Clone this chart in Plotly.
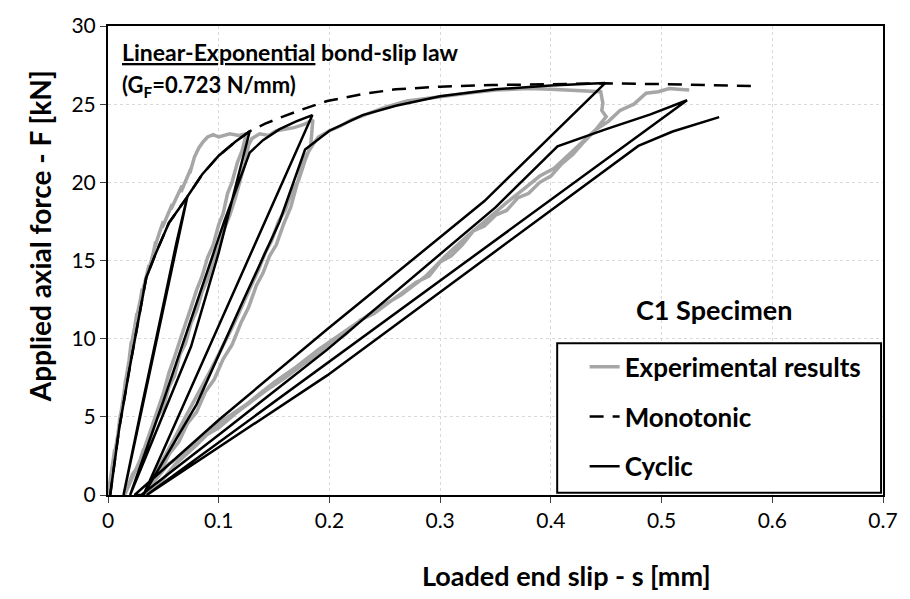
import plotly.graph_objects as go

# ---------------- data ----------------
x_ticks = [0, 0.1, 0.2, 0.3, 0.4, 0.5, 0.6, 0.7]
y_ticks = [0, 5, 10, 15, 20, 25, 30]

# Monotonic model (dashed)
mono_s = [0.002, 0.01, 0.02, 0.0345, 0.0434, 0.055, 0.0716, 0.085, 0.1, 0.115, 0.128,
          0.142, 0.156, 0.175, 0.198, 0.23, 0.26, 0.3, 0.347, 0.4, 0.449, 0.5, 0.55, 0.586]
mono_F = [0, 4.2, 8.3, 13.9, 15.5, 17.4, 19.07, 20.5, 21.7, 22.6, 23.27,
          23.75, 24.15, 24.65, 25.2, 25.65, 25.95, 26.12, 26.22, 26.3, 26.33, 26.28, 26.22, 26.16]

# Cyclic model (solid black)
cyc_s = [0.002, 0.01, 0.02, 0.0345, 0.0434, 0.055, 0.0716,
         0.051, 0.014,
         0.03, 0.048, 0.062, 0.0716,
         0.085, 0.1, 0.115, 0.128,
         0.1, 0.075, 0.02,
         0.05, 0.08, 0.105, 0.128,
         0.14, 0.155, 0.17, 0.1846,
         0.032,
         0.08, 0.121, 0.155, 0.178,
         0.2, 0.23, 0.26, 0.3, 0.35, 0.4, 0.449,
         0.34, 0.198, 0.1, 0.024,
         0.03, 0.11, 0.198, 0.35, 0.406,
         0.45, 0.49, 0.523,
         0.035,
         0.198, 0.406, 0.479, 0.51, 0.552]
cyc_F = [0, 4.2, 8.3, 13.9, 15.5, 17.4, 19.07,
         12.26, 0,
         5.5, 11.5, 16.2, 19.07,
         20.5, 21.7, 22.6, 23.27,
         15.5, 9.5, 0,
         6.0, 12.26, 17.5, 21.9,
         22.7, 23.4, 23.9, 24.3,
         0,
         5.8, 12.26, 17.5, 22.1,
         23.3, 24.3, 24.9, 25.5, 25.95, 26.2, 26.35,
         18.8, 10.6, 4.8, 0,
         0, 4.4, 9.3, 18.4, 22.3,
         23.4, 24.35, 25.25,
         0,
         7.65, 18.55, 22.33, 23.25, 24.17]

# Experimental results (grey, noisy)
exp_s = [0.0, 0.003, 0.002, 0.006, 0.005, 0.009, 0.011, 0.010, 0.014, 0.016, 0.015, 0.019,
         0.021, 0.020, 0.024, 0.026, 0.025, 0.029, 0.031, 0.030, 0.034, 0.037, 0.036, 0.041,
         0.043, 0.042, 0.047, 0.05, 0.049, 0.054, 0.058, 0.057, 0.062, 0.067, 0.066, 0.071,
         0.075, 0.074, 0.078, 0.082, 0.086, 0.09, 0.095, 0.1, 0.105, 0.11, 0.118, 0.125,
         0.121, 0.117, 0.112, 0.108, 0.104, 0.1, 0.095, 0.09, 0.085, 0.08, 0.075, 0.07,
         0.065, 0.06, 0.055, 0.05, 0.045, 0.04, 0.035, 0.03, 0.025, 0.02, 0.015,
         0.022, 0.027, 0.032, 0.038, 0.044, 0.05, 0.055, 0.06, 0.065, 0.07, 0.075, 0.08,
         0.085, 0.09, 0.095, 0.1, 0.105, 0.11, 0.115, 0.12, 0.124, 0.127, 0.13, 0.137,
         0.145, 0.152, 0.16, 0.168, 0.177, 0.185,
         0.184, 0.183, 0.178, 0.172, 0.166, 0.16, 0.154, 0.148, 0.142, 0.136, 0.13, 0.124,
         0.118, 0.112, 0.106, 0.1, 0.092, 0.085, 0.077, 0.07, 0.062, 0.055, 0.047, 0.04, 0.033,
         0.04, 0.048, 0.056, 0.064, 0.072, 0.08, 0.088, 0.096, 0.104, 0.112, 0.12, 0.127,
         0.134, 0.14, 0.146, 0.152, 0.159, 0.165, 0.171, 0.177, 0.185, 0.19, 0.2, 0.21,
         0.22, 0.235, 0.25, 0.27, 0.3, 0.33, 0.35, 0.38, 0.4, 0.42, 0.445, 0.447, 0.446, 0.45,
         0.441, 0.43, 0.42, 0.41, 0.4, 0.39, 0.38, 0.37, 0.36, 0.35, 0.34, 0.33, 0.32, 0.31,
         0.3, 0.29, 0.278, 0.265, 0.253, 0.24, 0.228, 0.215, 0.2, 0.19, 0.175, 0.16, 0.145,
         0.13, 0.115, 0.1, 0.088, 0.078, 0.066, 0.055, 0.042, 0.035,
         0.045, 0.06, 0.08, 0.1, 0.125, 0.15, 0.17, 0.19, 0.215, 0.243, 0.265, 0.287, 0.305,
         0.325, 0.347, 0.36, 0.376, 0.39, 0.403, 0.412, 0.425, 0.441, 0.452, 0.4625, 0.475,
         0.486, 0.497, 0.507, 0.515, 0.525]
exp_F = [0.0, 1.6, 1.0, 2.9, 2.2, 3.9, 5.1, 4.5, 6.3, 7.4, 6.9, 8.6,
         9.8, 9.2, 10.7, 11.6, 11.1, 12.4, 13.2, 12.7, 13.8, 14.7, 14.2, 15.5,
         16.2, 15.8, 16.9, 17.5, 17.1, 18.0, 18.6, 18.3, 19.0, 19.8, 19.4, 20.2,
         20.9, 20.6, 21.6, 22.2, 22.6, 22.9, 23.05, 22.9, 23.0, 23.1, 23.0, 23.1,
         22.0, 21.3, 20.0, 19.3, 18.0, 17.3, 16.0, 15.2, 14.0, 13.1, 12.0, 11.0,
         9.9, 8.8, 7.8, 6.5, 5.5, 4.4, 3.4, 2.4, 1.6, 0.8, 0.0,
         1.3, 1.8, 2.9, 3.6, 4.9, 5.6, 6.9, 7.6, 9.0, 9.7, 11.0, 11.8,
         13.0, 13.8, 15.0, 15.8, 17.0, 17.9, 19.0, 20.3, 21.3, 22.4, 22.8, 23.1,
         23.0, 23.3, 23.4, 23.5, 23.7, 24.0,
         23.1, 22.3, 21.4, 20.1, 19.4, 18.2, 17.5, 16.3, 15.5, 14.4, 13.5, 12.5,
         11.6, 10.7, 9.8, 9.0, 7.9, 7.0, 5.9, 5.0, 3.9, 3.0, 1.9, 1.0, 0.0,
         0.9, 1.6, 2.7, 3.4, 4.6, 5.3, 6.6, 7.4, 8.7, 9.6, 11.0, 12.0,
         13.4, 14.2, 15.3, 16.0, 17.4, 18.4, 19.9, 21.5, 22.4, 22.9, 23.3, 23.6,
         24.0, 24.4, 24.8, 25.2, 25.5, 25.75, 25.9, 26.0, 25.95, 25.9, 25.8, 25.05, 24.6, 24.2,
         23.4, 22.6, 21.8, 21.2, 20.4, 20.0, 19.3, 19.0, 18.2, 17.9, 17.2, 16.9, 16.0, 15.3,
         14.9, 14.0, 13.6, 12.9, 12.3, 11.6, 11.2, 10.3, 9.6, 9.0, 8.3, 7.5, 6.8,
         6.0, 5.2, 4.3, 3.8, 3.2, 2.5, 2.0, 0.9, 0.0,
         0.6, 1.9, 3.2, 4.6, 5.8, 7.2, 8.2, 9.3, 10.5, 11.9, 12.8, 14.0, 15.3,
         16.6, 17.9, 18.7, 19.6, 20.4, 20.9, 21.5, 22.3, 23.4, 23.9, 24.6, 25.0,
         25.7, 25.8, 26.0, 25.95, 25.9]

FONT = "Lato, 'Open Sans', sans-serif"

fig = go.Figure()

fig.add_trace(go.Scatter(
    x=exp_s, y=exp_F, mode="lines", name="Experimental results",
    line=dict(color="#a6a6a6", width=3.5), legendgroup="a"))
fig.add_trace(go.Scatter(
    x=mono_s, y=mono_F, mode="lines", name="Monotonic",
    line=dict(color="black", width=2.5, dash="14px,9px"), legendgroup="b"))
fig.add_trace(go.Scatter(
    x=cyc_s, y=cyc_F, mode="lines", name="Cyclic",
    line=dict(color="black", width=2.5), legendgroup="c"))

# legend frame
fig.add_shape(type="rect", xref="paper", yref="paper",
              x0=0.5796, x1=0.9975, y0=0.005, y1=0.3235,
              line=dict(color="black", width=2), fillcolor="white", layer="above")

fig.update_layout(
    width=910, height=599,
    margin=dict(l=108, r=17, t=18, b=104),
    paper_bgcolor="white", plot_bgcolor="white",
    font=dict(family=FONT, color="black", size=21),
    showlegend=True,
    legend=dict(x=0.615, y=0.3235, xanchor="left", yanchor="top",
                bgcolor="rgba(0,0,0,0)", borderwidth=0,
                font=dict(size=26, family=FONT, weight="bold"),
                tracegroupgap=13, itemwidth=30),
    xaxis=dict(range=[0, 0.7], tickvals=x_ticks, ticktext=[f"{v:g}" for v in x_ticks],
               showgrid=True, gridcolor="#d9d9d9", griddash="dot", gridwidth=1,
               showline=True, linecolor="black", linewidth=2, mirror=True,
               ticks="outside", ticklen=6, tickcolor="#404040", zeroline=False,
               tickfont=dict(size=21)),
    yaxis=dict(range=[0, 30], tickvals=y_ticks,
               showgrid=True, gridcolor="#d9d9d9", griddash="dot", gridwidth=1,
               showline=True, linecolor="black", linewidth=2, mirror=True,
               ticks="outside", ticklen=6, tickcolor="#404040", zeroline=False,
               tickfont=dict(size=21)),
    annotations=[
        dict(text="<b><u>Linear-Exponential</u> bond-slip law</b>", xref="paper", yref="paper",
             x=(120 - 108) / 785, y=(495 - 44) / 477, xanchor="left", yanchor="middle",
             showarrow=False, font=dict(size=23)),
        dict(text="<b>(G<sub>F</sub>=0.723 N/mm)</b>", xref="paper", yref="paper",
             x=(120 - 108) / 785, y=(495 - 79) / 477, xanchor="left", yanchor="middle",
             showarrow=False, font=dict(size=22)),
        dict(text="<b>C1 Specimen</b>", xref="paper", yref="paper",
             x=(722 - 108) / 785, y=(495 - 306) / 477, xanchor="center", yanchor="middle",
             showarrow=False, font=dict(size=27)),
        dict(text="<b>Loaded end slip - s [mm]</b>", xref="paper", yref="paper",
             x=(572 - 108) / 785, y=(495 - 577) / 477, xanchor="center", yanchor="middle",
             showarrow=False, font=dict(size=27)),
        dict(text="<b>Applied axial force - F [kN]</b>", xref="paper", yref="paper",
             x=(40 - 108) / 785, y=(495 - 232) / 477, xanchor="center", yanchor="middle",
             textangle=-90, showarrow=False, font=dict(size=28)),
    ],
)

fig.write_html("out.html")
